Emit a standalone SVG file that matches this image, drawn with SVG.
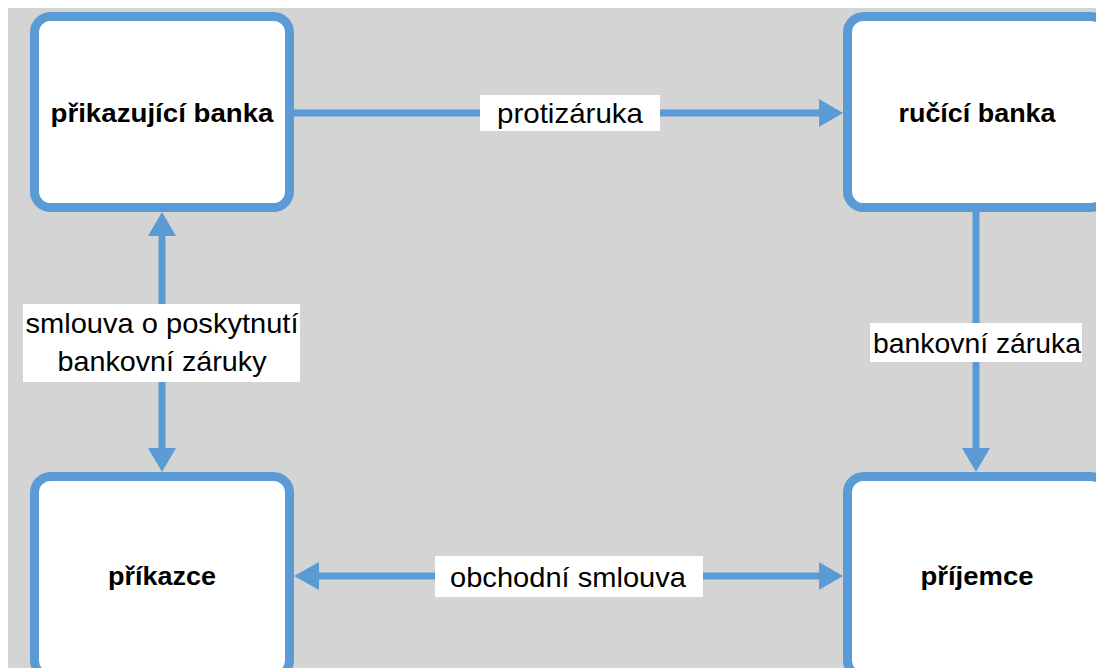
<svg xmlns="http://www.w3.org/2000/svg" width="1096" height="668" viewBox="0 0 1096 668">
<style>
.box{fill:#ffffff;stroke:#5b9bd5;stroke-width:9}
.line{stroke:#5b9bd5;stroke-width:7;fill:none}
.head{fill:#5b9bd5}
.lbl{fill:#ffffff}
.t{font-family:"Liberation Sans",Arial,sans-serif;font-size:28px;fill:#000;text-anchor:middle}
.b{font-family:"Liberation Sans",Arial,sans-serif;font-size:26px;font-weight:bold;fill:#000;text-anchor:middle}
</style>
<rect x="0" y="0" width="1096" height="668" fill="#ffffff"/>
<rect x="8" y="8" width="1088" height="660" fill="#d4d4d4"/>
<g id="connectors">
<line class="line" x1="294" y1="113" x2="821" y2="113"/>
<polygon class="head" points="843,113 819,99 819,127"/>
<line class="line" x1="162" y1="234" x2="162" y2="450"/>
<polygon class="head" points="162,212 148,236 176,236"/>
<polygon class="head" points="162,472 148,448 176,448"/>
<line class="line" x1="976" y1="212" x2="976" y2="450"/>
<polygon class="head" points="976,472 962,448 990,448"/>
<line class="line" x1="317" y1="576" x2="821" y2="576"/>
<polygon class="head" points="294,576 319,562 319,590"/>
<polygon class="head" points="843,576 819,562 819,590"/>
<rect class="lbl" x="480" y="95" width="180" height="36"/>
<text class="t" x="570" y="123" textLength="146" lengthAdjust="spacingAndGlyphs">protizáruka</text>
<rect class="lbl" x="23" y="304" width="277" height="78"/>
<text class="t" x="162" y="333" textLength="273" lengthAdjust="spacingAndGlyphs">smlouva o poskytnutí</text>
<text class="t" x="162" y="371" textLength="209" lengthAdjust="spacingAndGlyphs">bankovní záruky</text>
<rect class="lbl" x="870" y="323" width="212" height="39"/>
<text class="t" x="977" y="353" textLength="208" lengthAdjust="spacingAndGlyphs">bankovní záruka</text>
<rect class="lbl" x="435" y="556" width="268" height="41"/>
<text class="t" x="568" y="587" textLength="236" lengthAdjust="spacingAndGlyphs">obchodní smlouva</text>
</g>
<g id="prikazujici-banka">
<rect class="box" x="34.5" y="16.5" width="255" height="191" rx="16"/>
<text class="b" x="162" y="122" textLength="223" lengthAdjust="spacingAndGlyphs">přikazující banka</text>
</g>
<g id="ruci-banka">
<rect class="box" x="847.5" y="16.5" width="259" height="191" rx="16"/>
<text class="b" x="977" y="122" textLength="157" lengthAdjust="spacingAndGlyphs">ručící banka</text>
</g>
<g id="prikazce">
<rect class="box" x="34.5" y="476.5" width="255" height="200" rx="16"/>
<text class="b" x="162" y="585" textLength="108" lengthAdjust="spacingAndGlyphs">příkazce</text>
</g>
<g id="prijemce">
<rect class="box" x="847.5" y="476.5" width="259" height="200" rx="16"/>
<text class="b" x="977" y="585" textLength="113" lengthAdjust="spacingAndGlyphs">příjemce</text>
</g>
</svg>
